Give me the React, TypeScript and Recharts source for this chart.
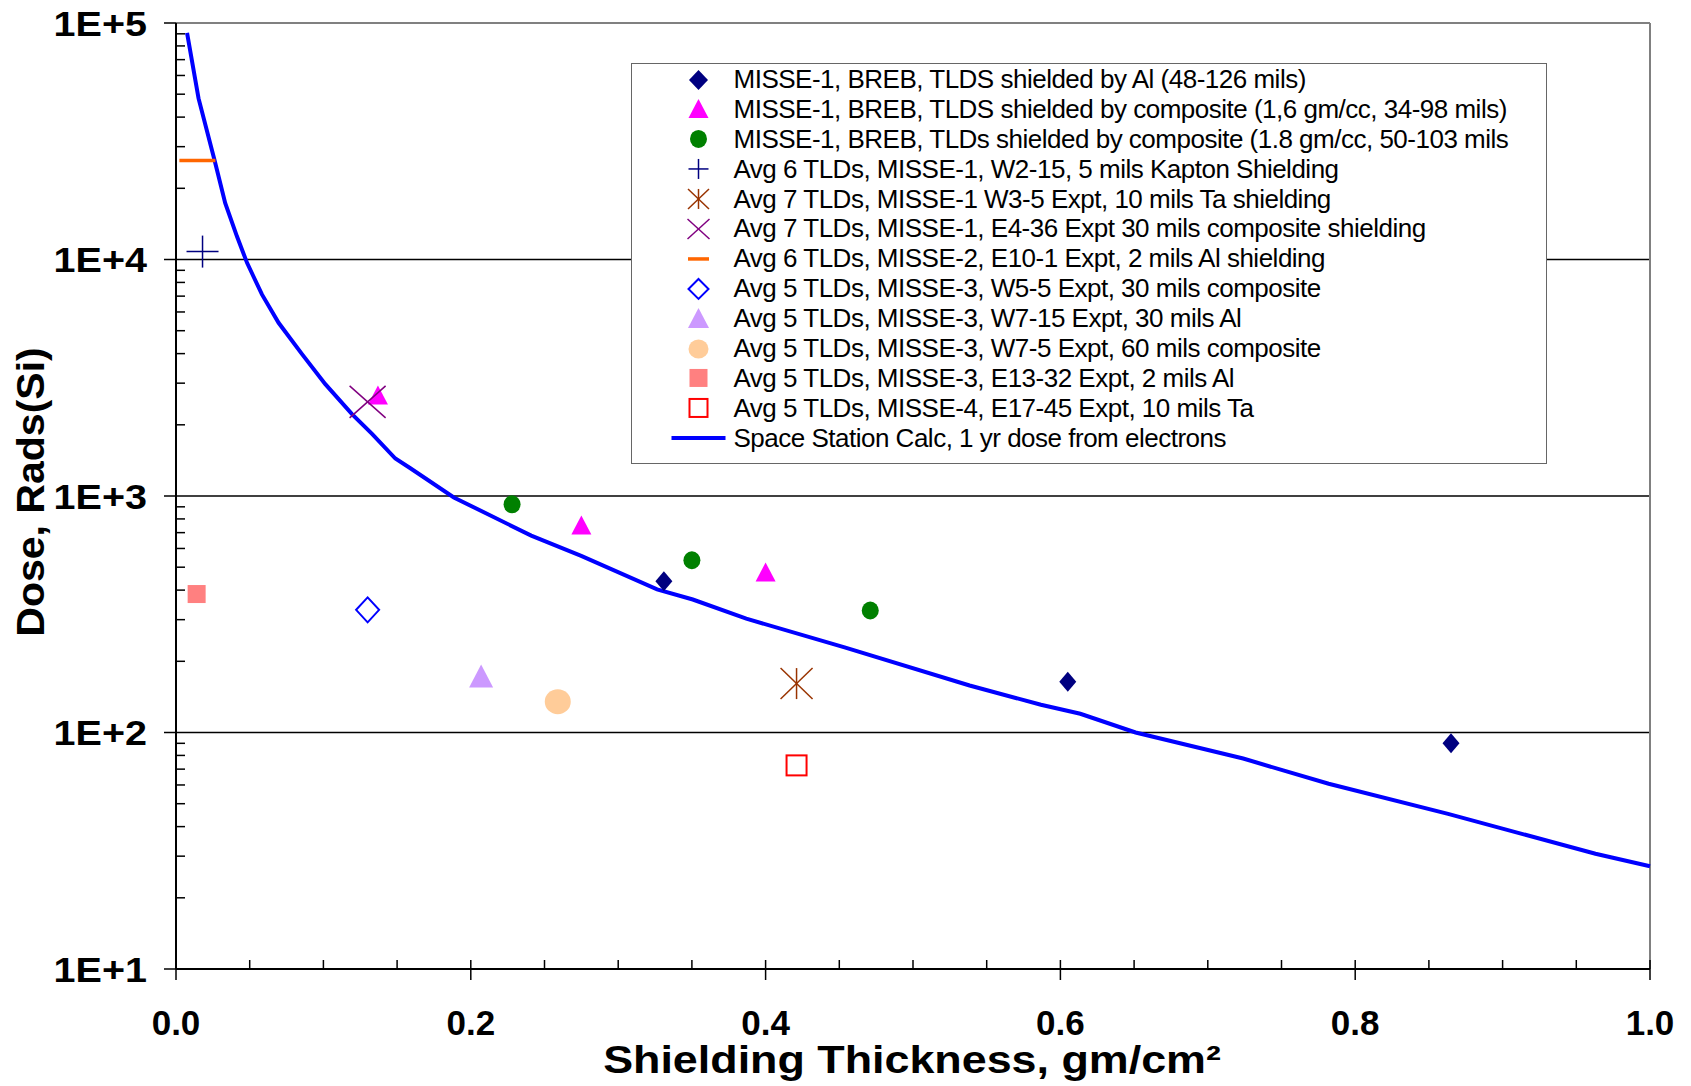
import React from "react";
import {
  ComposedChart,
  Line,
  Scatter,
  XAxis,
  YAxis,
  ReferenceLine,
  Legend,
} from "recharts";

// Space Station calc curve (1 yr dose from electrons)
const curveThickness = [
  0.0075, 0.0153, 0.0262, 0.0334, 0.0414, 0.0482, 0.0583, 0.0696, 0.0855,
  0.1013, 0.1194, 0.133, 0.1488, 0.159, 0.1885, 0.241, 0.2749, 0.3264, 0.3506,
  0.3869, 0.4536, 0.5384, 0.5868, 0.6135, 0.651, 0.724, 0.782, 0.863, 0.963,
  1.0,
];
const curveDose = [
  90800, 48000, 26200, 17300, 12500, 9680, 7120, 5400, 3980, 2970, 2220, 1830,
  1440, 1310, 986, 680, 558, 403, 365, 303, 229, 158, 131, 120, 100, 77.6,
  60.7, 45.3, 30.7, 27.2,
];

// measured TLD doses
const brebAlThickness = [0.331, 0.605, 0.865];
const brebAlDose = [436, 164, 90];
const breb16Thickness = [0.137, 0.275, 0.4];
const breb16Dose = [2660, 750, 475];
const breb18Thickness = [0.228, 0.35, 0.471];
const breb18Dose = [922, 535, 328];
const w215Thickness = [0.018];
const w215Dose = [10800];
const w35Thickness = [0.421];
const w35Dose = [161];
const e436Thickness = [0.13];
const e436Dose = [2500];
const e101Thickness = [0.0145];
const e101Dose = [26200];
const w55Thickness = [0.13];
const w55Dose = [330];
const w715Thickness = [0.207];
const w715Dose = [171];
const w75Thickness = [0.259];
const w75Dose = [135];
const e1332Thickness = [0.014];
const e1332Dose = [385];
const e1745Thickness = [0.421];
const e1745Dose = [72.6];

const xTicks = [
  0, 0.05, 0.1, 0.15, 0.2, 0.25, 0.3, 0.35, 0.4, 0.45, 0.5, 0.55, 0.6, 0.65,
  0.7, 0.75, 0.8, 0.85, 0.9, 0.95, 1.0,
];
const yTicks = [
  10, 20, 30, 40, 50, 60, 70, 80, 90, 100, 200, 300, 400, 500, 600, 700, 800,
  900, 1000, 2000, 3000, 4000, 5000, 6000, 7000, 8000, 9000, 10000, 20000,
  30000, 40000, 50000, 60000, 70000, 80000, 90000, 100000,
];

const toPoints = (xs: number[], ys: number[]) =>
  xs.map((x, i) => ({ x, y: ys[i] }));

type MarkerKind =
  | "diamond"
  | "triangle"
  | "circle"
  | "plus"
  | "asterisk"
  | "cross"
  | "dash"
  | "openDiamond"
  | "bigTriangle"
  | "bigCircle"
  | "square"
  | "openSquare"
  | "line";

const series: {
  name: string;
  kind: MarkerKind;
  color: string;
  data: { x: number; y: number }[];
}[] = [
  { name: "MISSE-1, BREB, TLDS shielded by Al (48-126 mils)", kind: "diamond", color: "#000080", data: toPoints(brebAlThickness, brebAlDose) },
  { name: "MISSE-1, BREB, TLDS shielded by composite (1,6 gm/cc, 34-98 mils)", kind: "triangle", color: "#FF00FF", data: toPoints(breb16Thickness, breb16Dose) },
  { name: "MISSE-1, BREB, TLDs shielded by composite (1.8 gm/cc, 50-103 mils", kind: "circle", color: "#008000", data: toPoints(breb18Thickness, breb18Dose) },
  { name: "Avg 6 TLDs, MISSE-1, W2-15, 5 mils Kapton Shielding", kind: "plus", color: "#000080", data: toPoints(w215Thickness, w215Dose) },
  { name: "Avg 7 TLDs, MISSE-1 W3-5 Expt, 10 mils Ta shielding", kind: "asterisk", color: "#993300", data: toPoints(w35Thickness, w35Dose) },
  { name: "Avg 7 TLDs, MISSE-1, E4-36 Expt 30 mils composite shielding", kind: "cross", color: "#800080", data: toPoints(e436Thickness, e436Dose) },
  { name: "Avg 6 TLDs, MISSE-2, E10-1 Expt, 2 mils Al shielding", kind: "dash", color: "#FF6600", data: toPoints(e101Thickness, e101Dose) },
  { name: "Avg 5 TLDs, MISSE-3, W5-5 Expt, 30 mils composite", kind: "openDiamond", color: "#0000FF", data: toPoints(w55Thickness, w55Dose) },
  { name: "Avg 5 TLDs, MISSE-3, W7-15 Expt, 30 mils Al", kind: "bigTriangle", color: "#CC99FF", data: toPoints(w715Thickness, w715Dose) },
  { name: "Avg 5 TLDs, MISSE-3, W7-5 Expt, 60 mils composite", kind: "bigCircle", color: "#FFCC99", data: toPoints(w75Thickness, w75Dose) },
  { name: "Avg 5 TLDs, MISSE-3, E13-32 Expt, 2 mils Al", kind: "square", color: "#FF8080", data: toPoints(e1332Thickness, e1332Dose) },
  { name: "Avg 5 TLDs, MISSE-4, E17-45 Expt, 10 mils Ta", kind: "openSquare", color: "#FF0000", data: toPoints(e1745Thickness, e1745Dose) },
];

const curveData = toPoints(curveThickness, curveDose);
const CURVE_NAME = "Space Station Calc, 1 yr dose from electrons";
const FONT = "Liberation Sans, Arial, sans-serif";

function Marker({
  kind,
  color,
  cx,
  cy,
  small = false,
}: {
  kind: MarkerKind;
  color: string;
  cx: number;
  cy: number;
  small?: boolean;
}) {
  switch (kind) {
    case "diamond": {
      const hw = small ? 9.5 : 8.5;
      return <path d={`M${cx},${cy - 10}L${cx + hw},${cy}L${cx},${cy + 10}L${cx - hw},${cy}Z`} fill={color} />;
    }
    case "triangle":
      return <path d={`M${cx},${cy - 10}L${cx + 10},${cy + 9}L${cx - 10},${cy + 9}Z`} fill={color} />;
    case "circle":
      return <ellipse cx={cx} cy={cy} rx={8.5} ry={9} fill={color} />;
    case "plus": {
      const h = small ? 10 : 16;
      return (
        <g stroke={color} strokeWidth={1.5}>
          <line x1={cx - h} x2={cx + h} y1={cy} y2={cy} />
          <line x1={cx} x2={cx} y1={cy - h} y2={cy + h} />
        </g>
      );
    }
    case "asterisk": {
      const hw = small ? 10.5 : 16;
      const hh = small ? 10 : 15.5;
      return (
        <g stroke={color} strokeWidth={1.5}>
          <line x1={cx - hw} x2={cx + hw} y1={cy - hh} y2={cy + hh} />
          <line x1={cx - hw} x2={cx + hw} y1={cy + hh} y2={cy - hh} />
          <line x1={cx} x2={cx} y1={cy - hh} y2={cy + hh} />
        </g>
      );
    }
    case "cross": {
      const hw = small ? 11 : 18;
      const hh = small ? 10 : 16;
      return (
        <g stroke={color} strokeWidth={1.5}>
          <line x1={cx - hw} x2={cx + hw} y1={cy - hh} y2={cy + hh} />
          <line x1={cx - hw} x2={cx + hw} y1={cy + hh} y2={cy - hh} />
        </g>
      );
    }
    case "dash": {
      const h = small ? 10.5 : 18;
      return <line x1={cx - h} x2={cx + h} y1={cy} y2={cy} stroke={color} strokeWidth={3.5} />;
    }
    case "openDiamond": {
      const hw = small ? 10 : 11.5;
      const hh = small ? 10 : 12.5;
      return <path d={`M${cx},${cy - hh}L${cx + hw},${cy}L${cx},${cy + hh}L${cx - hw},${cy}Z`} fill="#fff" stroke={color} strokeWidth={2} />;
    }
    case "bigTriangle": {
      const hw = small ? 10.5 : 12;
      const top = small ? 11 : 13;
      const bot = small ? 9 : 10;
      return <path d={`M${cx},${cy - top}L${cx + hw},${cy + bot}L${cx - hw},${cy + bot}Z`} fill={color} />;
    }
    case "bigCircle":
      return <ellipse cx={cx} cy={cy} rx={small ? 10 : 13} ry={small ? 9.5 : 12.5} fill={color} />;
    case "square":
      return <rect x={cx - 9} y={cy - 9} width={18} height={18} fill={color} />;
    case "openSquare": {
      const h = small ? 9 : 10;
      return <rect x={cx - h} y={cy - h} width={2 * h} height={2 * h} fill="#fff" stroke={color} strokeWidth={2} />;
    }
    case "line":
      return <line x1={cx - 27} x2={cx + 27} y1={cy} y2={cy} stroke="#0000FF" strokeWidth={4} />;
    default:
      return null;
  }
}

const isDecade = (v: number) => {
  const l = Math.log10(v);
  return Math.abs(l - Math.round(l)) < 1e-9;
};

const YTick = (props: any) => {
  const { x, y, payload } = props;
  const major = isDecade(payload.value);
  if (!major) {
    return <line x1={x} x2={x + 9} y1={y} y2={y} stroke="#000" strokeWidth={1.5} />;
  }
  return (
    <g>
      <line x1={x - 12} x2={x} y1={y} y2={y} stroke="#000" strokeWidth={1.5} />
      <text
        transform={`translate(${x - 29},${y + 12.5}) scale(1.13,1)`}
        textAnchor="end"
        fontFamily={FONT}
        fontWeight="bold"
        fontSize={35}
        fill="#000"
      >
        {`1E+${Math.round(Math.log10(payload.value))}`}
      </text>
    </g>
  );
};

const XTick = (props: any) => {
  const { x, y, payload } = props;
  const major = Math.round(payload.value * 100) % 20 === 0;
  if (!major) {
    return <line x1={x} x2={x} y1={y} y2={y - 9} stroke="#000" strokeWidth={1.5} />;
  }
  return (
    <g>
      <line x1={x} x2={x} y1={y - 9} y2={y + 11} stroke="#000" strokeWidth={1.5} />
      <text
        x={x}
        y={y + 66}
        textAnchor="middle"
        fontFamily={FONT}
        fontWeight="bold"
        fontSize={35}
        fill="#000"
      >
        {payload.value.toFixed(1)}
      </text>
    </g>
  );
};

const ROW_H = 29.9;

const legendRows = [
  ...series.map((s) => ({ name: s.name, kind: s.kind, color: s.color })),
  { name: CURVE_NAME, kind: "line" as MarkerKind, color: "#0000FF" },
];

const LegendBox = () => (
  <div
    style={{
      width: 916,
      height: 401,
      boxSizing: "border-box",
      border: "1.5px solid #666",
      background: "#fff",
      paddingTop: 0.5,
      fontFamily: FONT,
      fontSize: 26,
      letterSpacing: -0.5,
      color: "#000",
    }}
  >
    {legendRows.map((s) => (
      <div key={s.name} style={{ display: "flex", alignItems: "center", height: ROW_H, whiteSpace: "nowrap" }}>
        <svg width={101.5} height={ROW_H} style={{ flex: "none" }}>
          <Marker kind={s.kind} color={s.color} cx={66.5} cy={ROW_H / 2} small />
        </svg>
        <span>{s.name}</span>
      </div>
    ))}
  </div>
);

export default function App() {
  return (
    <div>
      <style>{`body{margin:0}`}</style>
      <ComposedChart
        width={1691}
        height={1086}
        margin={{ top: 23, right: 41, bottom: 0, left: 0 }}
      >
        <XAxis
          type="number"
          dataKey="x"
          domain={[0, 1]}
          ticks={xTicks}
          interval={0}
          tickSize={0}
          tickMargin={0}
          height={117}
          tick={<XTick />}
          axisLine={{ stroke: "#000", strokeWidth: 2 }}
          label={{
            content: () => (
              <text
                transform="translate(912,1073) scale(1.18,1)"
                textAnchor="middle"
                fontFamily={FONT}
                fontWeight="bold"
                fontSize={38}
                fill="#000"
              >
                Shielding Thickness, gm/cm²
              </text>
            ),
          }}
        />
        <YAxis
          type="number"
          dataKey="y"
          scale="log"
          domain={[10, 100000]}
          allowDataOverflow
          ticks={yTicks}
          interval={0}
          tickSize={0}
          tickMargin={0}
          width={176}
          tick={<YTick />}
          axisLine={{ stroke: "#000", strokeWidth: 2 }}
          label={{
            content: () => (
              <text
                transform="translate(44,492) rotate(-90) scale(1.08,1)"
                textAnchor="middle"
                fontFamily={FONT}
                fontWeight="bold"
                fontSize={38}
                fill="#000"
              >
                Dose, Rads(Si)
              </text>
            ),
          }}
        />
        <ReferenceLine y={100} stroke="#000" strokeWidth={1.5} />
        <ReferenceLine y={1000} stroke="#000" strokeWidth={1.5} />
        <ReferenceLine y={10000} stroke="#000" strokeWidth={1.5} />
        <ReferenceLine y={100000} stroke="#808080" strokeWidth={2} />
        <ReferenceLine x={1} stroke="#808080" strokeWidth={2} />
        <Line
          data={curveData}
          dataKey="y"
          type="linear"
          stroke="#0000FF"
          strokeWidth={4}
          dot={false}
          activeDot={false}
          isAnimationActive={false}
          name={CURVE_NAME}
        />
        {series.map((s) => (
          <Scatter
            key={s.name}
            name={s.name}
            data={s.data}
            dataKey="y"
            isAnimationActive={false}
            shape={(p: any) => <Marker kind={s.kind} color={s.color} cx={p.cx} cy={p.cy} />}
          />
        ))}
        <Legend
          layout="horizontal"
          verticalAlign="middle"
          align="center"
          content={<LegendBox />}
          wrapperStyle={{ left: 631, top: 63, width: 916, height: 401 }}
        />
      </ComposedChart>
    </div>
  );
}
